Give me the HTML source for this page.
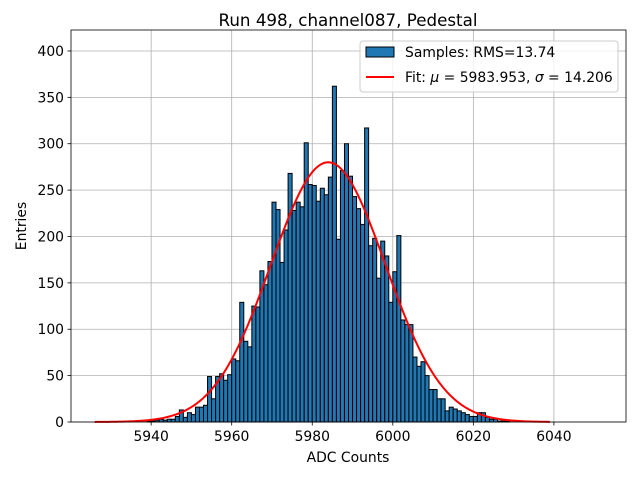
<!DOCTYPE html>
<html><head><meta charset="utf-8"><style>
body{margin:0;background:#fff}
svg{display:block;font-family:"DejaVu Sans","Liberation Sans",sans-serif}
</style></head><body>
<svg id="c" width="640" height="480"></svg>
<script>
const binStart = 5939;
const counts = [1,1,2,3,2,3,3,6,13,5,10,8,16,16,18,49,25,49,52,45,51,68,66,129,87,81,125,124,163,148,173,237,229,172,207,268,228,237,232,301,256,255,238,252,245,264,362,197,271,300,265,243,230,213,317,190,198,155,195,179,129,162,201,110,105,105,70,60,65,50,35,35,25,25,12,16,14,12,10,8,6,6,10,10,5,3,3,1,1,1];
const fitMu = 5983.953;
const fitSigma = 14.206;
const fitAmp = 280;
const xTicks = [5940,5960,5980,6000,6020,6040];
const yTicks = [0,50,100,150,200,250,300,350,400];

const NS="http://www.w3.org/2000/svg";
const svg=document.getElementById('c');
const L=71,R=626,T=30,B=422;
const xMin=5920.1,xMax=6057.9,yMax=422.6;
const X=v=>L+(v-xMin)/(xMax-xMin)*(R-L);
const Y=v=>B-v/yMax*(B-T);
function mk(tag,attrs,parent){const e=document.createElementNS(NS,tag);for(const k in attrs)e.setAttribute(k,attrs[k]);(parent||svg).appendChild(e);return e;}

const grid=mk('g',{});


xTicks.forEach(t=>mk('line',{x1:X(t),x2:X(t),y1:T,y2:B,stroke:'#b0b0b0','stroke-width':0.8},grid));
yTicks.forEach(t=>mk('line',{x1:L,x2:R,y1:Y(t),y2:Y(t),stroke:'#b0b0b0','stroke-width':0.8},grid));

const bars=mk('g',{});


counts.forEach((c,i)=>{
  const b=binStart+i;
  const r=mk('rect',{x:X(b),y:Y(c),width:X(b+1)-X(b),height:B-Y(c),fill:'#1f77b4',stroke:'#000','stroke-width':1},bars);
  
  
});

let d='';
for(let x=5926;x<=6039;x+=0.5){const y=fitAmp*Math.exp(-0.5*((x-fitMu)/fitSigma)**2);d+=(d?'L':'M')+X(x).toFixed(2)+','+Y(y).toFixed(2);}
const fit=mk('path',{d:d,fill:'none',stroke:'#ff0000','stroke-width':2});



const frame=mk('rect',{x:L,y:T,width:R-L,height:B-T,fill:'none',stroke:'#000','stroke-width':0.8});



xTicks.forEach(t=>{
  mk('line',{x1:X(t),x2:X(t),y1:B,y2:B+3.5,stroke:'#000','stroke-width':0.8});
  const tx=mk('text',{x:X(t),y:B+19,'font-size':13.9,'text-anchor':'middle'});
  tx.textContent=t;
  
  
});
yTicks.forEach(t=>{
  mk('line',{x1:L-3.5,x2:L,y1:Y(t),y2:Y(t),stroke:'#000','stroke-width':0.8});
  const tx=mk('text',{x:L-7,y:Y(t)+5,'font-size':13.9,'text-anchor':'end'});
  tx.textContent=t;
  
  
});
</script>
<svg width="640" height="480" style="position:absolute;left:0;top:0;font-family:'DejaVu Sans','Liberation Sans',sans-serif">
<text x="348" y="26" font-size="16.7" text-anchor="middle">Run 498, channel087, Pedestal</text>
<text x="348" y="462" font-size="13.9" text-anchor="middle">ADC Counts</text>
<text transform="translate(26,226) rotate(-90)" font-size="13.9" text-anchor="middle">Entries</text>
<g>
<rect x="360" y="41" width="258" height="51" rx="3" fill="#fff" fill-opacity="0.8" stroke="#ccc"/>
<rect x="366" y="47" width="28" height="10" fill="#1f77b4" stroke="#000"/>
<text x="405" y="57" font-size="13.9">Samples: RMS=13.74</text>
<line x1="366" x2="394" y1="77" y2="77" stroke="#f00" stroke-width="2"/>
<text x="405" y="82" font-size="13.9">Fit: <tspan font-style="italic">μ</tspan> = 5983.953, <tspan font-style="italic">σ</tspan> = 14.206</text>
</g>
</svg>
</body></html>
